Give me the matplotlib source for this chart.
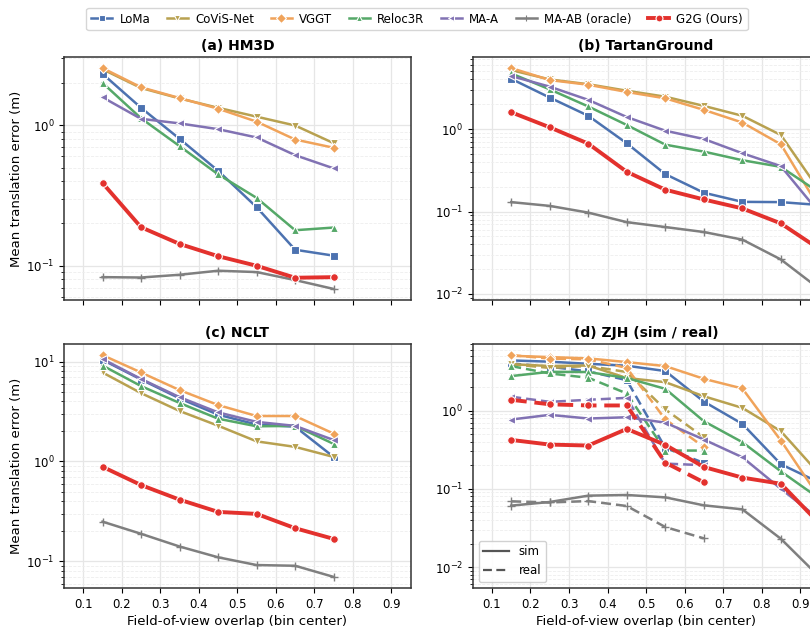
import matplotlib
matplotlib.use("Agg")
import matplotlib.pyplot as plt
from matplotlib.lines import Line2D
import numpy as np

# bin centers
x7 = [0.15, 0.25, 0.35, 0.45, 0.55, 0.65, 0.75]
x9 = [0.15, 0.25, 0.35, 0.45, 0.55, 0.65, 0.75, 0.85, 0.95]
x_real = [0.15, 0.25, 0.35, 0.45, 0.55, 0.65]

methods = ["LoMa", "CoViS-Net", "VGGT", "Reloc3R", "MA-A", "MA-AB (oracle)", "G2G (Ours)"]
colors = ["#4C72B0", "#B8A150", "#F0A35A", "#55A868", "#8172B3", "#7F7F7F", "#E3312D"]
markers = ["s", "v", "D", "^", "<", "+", "o"]

# (a) HM3D
hm3d_loma = [2.32, 1.33, 0.80, 0.474, 0.261, 0.130, 0.118]
hm3d_covis = [2.50, 1.84, 1.55, 1.33, 1.15, 0.995, 0.745]
hm3d_vggt = [2.55, 1.86, 1.56, 1.31, 1.06, 0.791, 0.691]
hm3d_reloc = [2.00, 1.12, 0.71, 0.447, 0.304, 0.179, 0.187]
hm3d_maa = [1.58, 1.11, 1.03, 0.937, 0.818, 0.612, 0.493]
hm3d_maab = [0.083, 0.0825, 0.0863, 0.0922, 0.0902, 0.0791, 0.0684]
hm3d_g2g = [0.388, 0.188, 0.143, 0.117, 0.100, 0.0822, 0.083]

# (b) TartanGround
tg_loma = [4.07, 2.41, 1.45, 0.672, 0.284, 0.169, 0.131, 0.130, 0.120]
tg_covis = [5.19, 4.00, 3.50, 2.92, 2.47, 1.91, 1.45, 0.847, 0.18]
tg_vggt = [5.50, 3.93, 3.45, 2.82, 2.36, 1.71, 1.20, 0.653, 0.11]
tg_reloc = [4.73, 3.03, 1.88, 1.12, 0.647, 0.533, 0.419, 0.348, 0.169]
tg_maa = [4.40, 3.27, 2.26, 1.40, 0.955, 0.758, 0.509, 0.355, 0.096]
tg_maab = [0.130, 0.117, 0.097, 0.0743, 0.0648, 0.0564, 0.0456, 0.0262, 0.0115]
tg_g2g = [1.60, 1.05, 0.666, 0.303, 0.184, 0.140, 0.109, 0.0717, 0.035]

# (c) NCLT
nclt_loma = [10.4, 6.61, 4.28, 2.94, 2.34, 2.23, 1.11]
nclt_covis = [7.77, 4.83, 3.20, 2.28, 1.59, 1.40, 1.11]
nclt_vggt = [11.6, 7.77, 5.18, 3.67, 2.85, 2.85, 1.90]
nclt_reloc = [9.12, 5.68, 3.85, 2.68, 2.25, 2.27, 1.50]
nclt_maa = [10.6, 6.70, 4.40, 3.10, 2.49, 2.27, 1.64]
nclt_maab = [0.250, 0.189, 0.141, 0.110, 0.092, 0.0905, 0.070]
nclt_g2g = [0.885, 0.581, 0.415, 0.313, 0.299, 0.215, 0.168]

# (d) ZJH sim
zjh_sim_loma = [4.36, 4.20, 3.95, 3.73, 3.19, 1.30, 0.675, 0.206, 0.12]
zjh_sim_covis = [3.90, 3.70, 3.75, 2.60, 2.30, 1.52, 1.08, 0.544, 0.154]
zjh_sim_vggt = [5.00, 4.81, 4.63, 4.15, 3.69, 2.54, 1.91, 0.413, 0.077]
zjh_sim_reloc = [2.75, 3.12, 3.10, 2.60, 1.89, 0.73, 0.394, 0.167, 0.075]
zjh_sim_maa = [0.767, 0.88, 0.79, 0.82, 0.70, 0.426, 0.253, 0.100, 0.041]
zjh_sim_maab = [0.061, 0.0679, 0.0818, 0.0834, 0.0778, 0.0615, 0.0547, 0.023, 0.0075]
zjh_sim_g2g = [0.421, 0.367, 0.357, 0.582, 0.364, 0.190, 0.139, 0.116, 0.036]

# (d) ZJH real
zjh_real_loma = [3.99, 3.62, 3.16, 2.44, 0.333, 0.214]
zjh_real_covis = [3.90, 3.50, 3.70, 3.10, 1.03, 0.456]
zjh_real_vggt = [5.10, 4.60, 4.50, 3.50, 0.77, 0.343]
zjh_real_reloc = [3.69, 2.97, 2.62, 1.65, 0.308, 0.308]
zjh_real_maa = [1.50, 1.29, 1.37, 1.45, 0.21, 0.20]
zjh_real_maab = [0.0692, 0.067, 0.0697, 0.0603, 0.0325, 0.0233]
zjh_real_g2g = [1.37, 1.20, 1.16, 1.16, 0.216, 0.121]

panels = [
    ("(a) HM3D", x7, [hm3d_loma, hm3d_covis, hm3d_vggt, hm3d_reloc, hm3d_maa, hm3d_maab, hm3d_g2g]),
    ("(b) TartanGround", x9, [tg_loma, tg_covis, tg_vggt, tg_reloc, tg_maa, tg_maab, tg_g2g]),
    ("(c) NCLT", x7, [nclt_loma, nclt_covis, nclt_vggt, nclt_reloc, nclt_maa, nclt_maab, nclt_g2g]),
    ("(d) ZJH (sim / real)", x9, [zjh_sim_loma, zjh_sim_covis, zjh_sim_vggt, zjh_sim_reloc,
                                 zjh_sim_maa, zjh_sim_maab, zjh_sim_g2g]),
]
zjh_real = [zjh_real_loma, zjh_real_covis, zjh_real_vggt, zjh_real_reloc,
            zjh_real_maa, zjh_real_maab, zjh_real_g2g]

plt.rcParams["font.family"] = "DejaVu Sans"
fig = plt.figure(figsize=(8.1, 6.27), dpi=100)

W, H = 810.0, 627.0
boxes = [(64, 57, 300), (472.7, 57, 300), (64, 344, 588), (472.7, 344, 588)]
axw = 346.7


def draw_series(ax, xs, ys, i, ls="-"):
    lw = 2.8 if i == 6 else 1.8
    plus = markers[i] == "+"
    ax.plot(xs, ys, color=colors[i], ls=ls, lw=lw, marker=markers[i],
            ms=6 if plus else 5.5, mec=colors[i] if plus else "white",
            mew=1.0 if plus else 0.8, zorder=3 + i * 0.1)


axes = []
for k, (title, xs, series) in enumerate(panels):
    left, top, bot = boxes[k]
    ax = fig.add_axes([left / W, 1 - bot / H, axw / W, (bot - top) / H])
    axes.append(ax)
    for i, ys in enumerate(series):
        draw_series(ax, xs, ys, i)
    if k == 3:
        for i, ys in enumerate(zjh_real):
            draw_series(ax, x_real, ys, i, ls=(0, (4, 2)))
    ax.set_yscale("log")
    ax.set_xlim(0.05, 0.95)
    ax.set_xticks(np.arange(0.1, 0.91, 0.1))
    ax.set_title(title, fontsize=10, fontweight="bold", pad=5)
    ax.grid(True, which="major", color="#E6E6E6", lw=0.9, zorder=0)
    ax.grid(True, which="minor", axis="y", color="#EEEEEE", lw=0.6, ls="--", zorder=0)
    for sp in ax.spines.values():
        sp.set_color("#333333")
        sp.set_linewidth(1.1)
    ax.tick_params(labelsize=8.5)
    if k < 2:
        ax.tick_params(labelbottom=False)
    else:
        ax.set_xlabel("Field-of-view overlap (bin center)", fontsize=9.5, labelpad=3)
        ax.set_xticklabels(["%.1f" % v for v in np.arange(0.1, 0.91, 0.1)])
    if k % 2 == 0:
        ax.set_ylabel("Mean translation error (m)", fontsize=9.5, labelpad=2)

# sim / real legend
sr = [Line2D([0], [0], color="#555555", lw=1.6, ls="-"),
      Line2D([0], [0], color="#555555", lw=1.6, ls=(0, (4, 2)))]
axes[3].legend(sr, ["sim", "real"], loc="lower left", fontsize=8.5, framealpha=0.9,
               handlelength=2.2)

handles = []
for i, m in enumerate(methods):
    plus = markers[i] == "+"
    handles.append(Line2D([0], [0], color=colors[i], lw=2.8 if i == 6 else 1.8,
                          marker=markers[i], ms=5, mec=colors[i] if plus else "white",
                          mew=0.8))
fig.legend(handles, methods, loc="upper center", bbox_to_anchor=(417 / W, 0.997),
           ncol=7, fontsize=8.5, frameon=True, handlelength=1.8, columnspacing=1.4,
           handletextpad=0.6, borderpad=0.4)

fig.savefig("out.png", dpi=100)
